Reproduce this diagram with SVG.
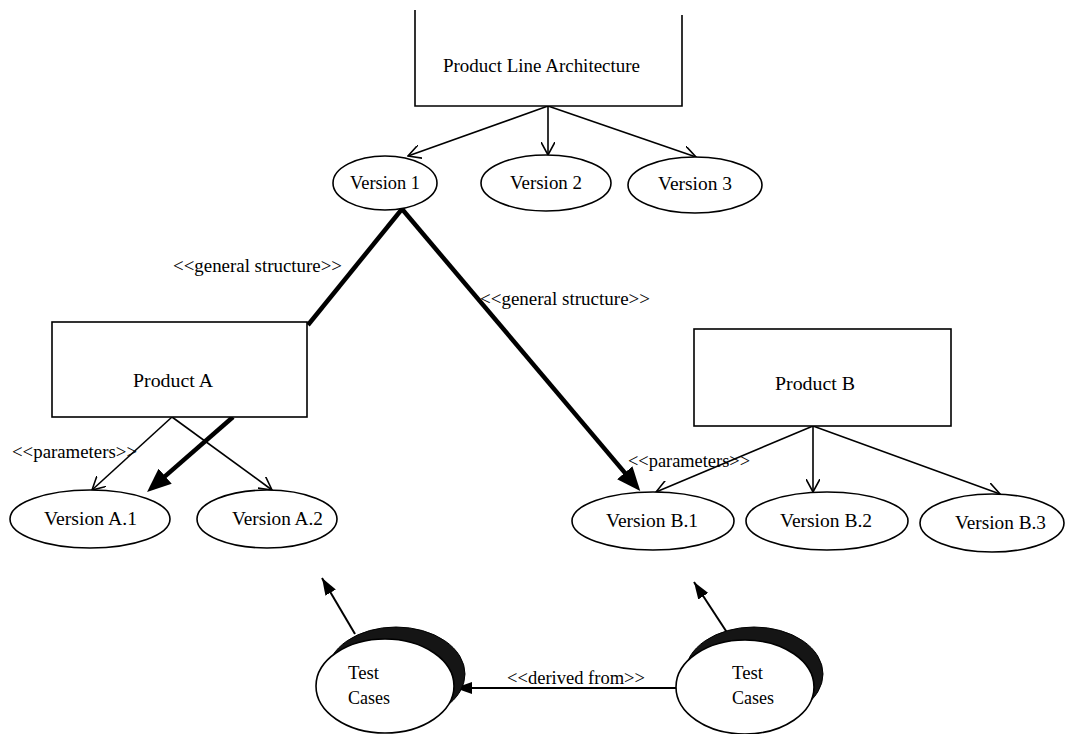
<svg xmlns="http://www.w3.org/2000/svg" width="1073" height="734" viewBox="0 0 1073 734">
<style>
text{font-family:"Liberation Serif","Times New Roman",serif;font-size:19px;fill:#000}
.box{fill:#fff;stroke:#000;stroke-width:1.6}
.ell{fill:#fff;stroke:#000;stroke-width:1.6}
.shadow{fill:#151515;stroke:#000;stroke-width:1}
.thin{fill:none;stroke:#000;stroke-width:1.6}
.thick{fill:none;stroke:#000;stroke-width:4.5}
.med{fill:none;stroke:#000;stroke-width:2}
</style>
<defs>
<marker id="open" viewBox="0 0 14 14" refX="13" refY="7" markerWidth="14" markerHeight="14" orient="auto" markerUnits="userSpaceOnUse">
<path d="M0,0 L13,7 L0,14" fill="none" stroke="#000" stroke-width="1.6"/>
</marker>
<marker id="bigfill" viewBox="0 0 26 20" refX="14" refY="10" markerWidth="26" markerHeight="20" orient="auto" markerUnits="userSpaceOnUse">
<path d="M0,0 L24,10 L0,20 z" fill="#000"/>
</marker>
<marker id="fill" viewBox="0 0 18 12" refX="17" refY="6" markerWidth="18" markerHeight="12" orient="auto" markerUnits="userSpaceOnUse">
<path d="M0,0 L17,6 L0,12 z" fill="#000"/>
</marker>
</defs>
<rect width="1073" height="734" fill="#fff"/>

<g id="connectors">
<line class="thin" x1="548" y1="106" x2="408" y2="156" marker-end="url(#open)"/>
<line class="thin" x1="548" y1="106" x2="548" y2="155" marker-end="url(#open)"/>
<line class="thin" x1="548" y1="106" x2="696" y2="157" marker-end="url(#open)"/>
<line class="thick" x1="402" y1="209" x2="308" y2="325"/>
<line class="thick" x1="402" y1="209" x2="633.8" y2="483.4" marker-end="url(#bigfill)"/>
<line class="thin" x1="172" y1="417" x2="92" y2="490" marker-end="url(#open)"/>
<line class="thin" x1="172" y1="417" x2="272" y2="490" marker-end="url(#open)"/>
<line class="thick" x1="233" y1="417" x2="154.6" y2="485.4" marker-end="url(#bigfill)"/>
<line class="thin" x1="813" y1="426" x2="656" y2="492" marker-end="url(#open)"/>
<line class="thin" x1="813" y1="426" x2="813" y2="492" marker-end="url(#open)"/>
<line class="thin" x1="813" y1="426" x2="1000" y2="494" marker-end="url(#open)"/>
<line class="med" x1="355" y1="634" x2="322" y2="578" marker-end="url(#fill)"/>
<line class="med" x1="728" y1="634" x2="694" y2="582" marker-end="url(#fill)"/>
<line class="med" x1="676" y1="688" x2="455" y2="688" marker-end="url(#fill)"/>
<text x="173" y="272" textLength="169" lengthAdjust="spacingAndGlyphs">&lt;&lt;general structure&gt;&gt;</text>
<text x="480" y="305" textLength="170" lengthAdjust="spacingAndGlyphs">&lt;&lt;general structure&gt;&gt;</text>
<text x="12" y="458" textLength="125" lengthAdjust="spacingAndGlyphs">&lt;&lt;parameters&gt;&gt;</text>
<text x="628" y="467" textLength="122" lengthAdjust="spacingAndGlyphs">&lt;&lt;parameters&gt;&gt;</text>
<text x="507" y="684" textLength="138" lengthAdjust="spacingAndGlyphs">&lt;&lt;derived from&gt;&gt;</text>
</g>

<g id="pla">
<path class="box" d="M415,10 V106 H682 V15" fill="none"/>
<text x="443" y="72" textLength="197" lengthAdjust="spacingAndGlyphs">Product  Line Architecture</text>
</g>
<g id="v1"><ellipse class="ell" cx="385" cy="183" rx="52" ry="27"/><text x="350" y="189" textLength="70" lengthAdjust="spacingAndGlyphs">Version 1</text></g>
<g id="v2"><ellipse class="ell" cx="546" cy="183" rx="65" ry="28"/><text x="510" y="189" textLength="72" lengthAdjust="spacingAndGlyphs">Version 2</text></g>
<g id="v3"><ellipse class="ell" cx="695" cy="185" rx="67" ry="28"/><text x="658" y="190" textLength="74" lengthAdjust="spacingAndGlyphs">Version 3</text></g>

<g id="productA">
<rect class="box" x="52" y="322" width="255" height="95"/>
<text x="133" y="387" textLength="80" lengthAdjust="spacingAndGlyphs">Product  A</text>
</g>
<g id="productB">
<rect class="box" x="694" y="329" width="257" height="97"/>
<text x="775" y="390" textLength="80" lengthAdjust="spacingAndGlyphs">Product  B</text>
</g>

<g id="vA1"><ellipse class="ell" cx="90" cy="519" rx="80" ry="29"/><text x="44" y="525" textLength="93" lengthAdjust="spacingAndGlyphs">Version A.1</text></g>
<g id="vA2"><ellipse class="ell" cx="267" cy="519" rx="70" ry="29"/><text x="232" y="525" textLength="91" lengthAdjust="spacingAndGlyphs">Version A.2</text></g>
<g id="vB1"><ellipse class="ell" cx="653" cy="521" rx="81" ry="29"/><text x="606" y="527" textLength="92" lengthAdjust="spacingAndGlyphs">Version B.1</text></g>
<g id="vB2"><ellipse class="ell" cx="827" cy="521" rx="81" ry="29"/><text x="780" y="527" textLength="92" lengthAdjust="spacingAndGlyphs">Version B.2</text></g>
<g id="vB3"><ellipse class="ell" cx="992" cy="523" rx="72" ry="29"/><text x="955" y="529" textLength="91" lengthAdjust="spacingAndGlyphs">Version B.3</text></g>

<g id="testA">
<ellipse class="shadow" cx="396" cy="674" rx="69" ry="47"/>
<ellipse class="ell" cx="385" cy="686" rx="69" ry="47"/>
<text x="348" y="679" textLength="31" lengthAdjust="spacingAndGlyphs">Test</text>
<text x="348" y="704" textLength="42" lengthAdjust="spacingAndGlyphs">Cases</text>
</g>
<g id="testB">
<ellipse class="shadow" cx="754" cy="674" rx="69" ry="47"/>
<ellipse class="ell" cx="745" cy="687" rx="69" ry="47"/>
<text x="732" y="679" textLength="31" lengthAdjust="spacingAndGlyphs">Test</text>
<text x="732" y="704" textLength="42" lengthAdjust="spacingAndGlyphs">Cases</text>
</g>
</svg>
